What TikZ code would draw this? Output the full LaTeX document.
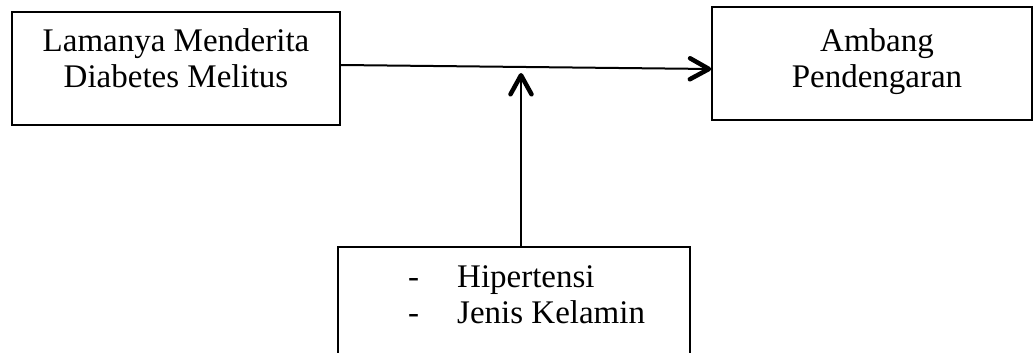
\documentclass[tikz,border=0pt]{standalone}
\usepackage{fontspec}
\setmainfont{Liberation Serif}
\usetikzlibrary{arrows.meta, positioning}

\begin{document}
\begin{tikzpicture}[
  x=1pt, y=-1pt,
  every node/.style={font=\fontsize{33}{36}\selectfont},
  blk/.style ={draw, line width=1.6pt, inner sep=0pt},
  txt/.style ={inner sep=0pt, align=center},
  arr/.style ={-{Straight Barb[length=19pt, width=21pt, line width=4.5pt, round]},
               line width=2pt}
]
\clip (0,0) rectangle (1034,353);

%% ─── boxes ─────────────────────────────────────────────────────────────────
\node[blk, minimum width=328pt, minimum height=113pt] (lama)   at (176,68.5) {};
\node[blk, minimum width=320pt, minimum height=113pt] (ambang) at (872,63.5) {};
\node[blk, minimum width=352pt, minimum height=140pt] (faktor) at (514,317)  {};

%% ─── texts ─────────────────────────────────────────────────────────────────
\node[txt, anchor=base] (lama_t)   at (176,88) {Lamanya Menderita\\Diabetes Melitus};
\node[txt, anchor=base] (ambang_t) at (877,88) {Ambang\\Pendengaran};
\node[txt, align=left, anchor=base west] (faktor_t) at (408,323)
  {\makebox[49pt][l]{-}Hipertensi\\\makebox[49pt][l]{-}Jenis Kelamin};

%% ─── arrows ────────────────────────────────────────────────────────────────
\coordinate (temu) at (521,73);
\draw[arr] ([yshift=3.5pt]lama.east) -- ([yshift=-5.5pt]ambang.west);
\draw[arr] (temu |- faktor.north) -- (temu);

\end{tikzpicture}
\end{document}
